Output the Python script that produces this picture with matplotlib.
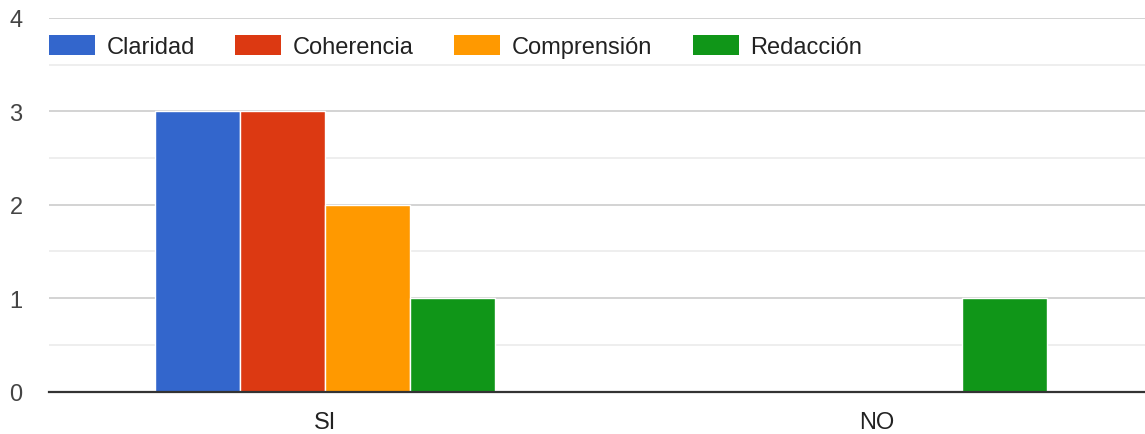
import numpy as np
import matplotlib
matplotlib.use("Agg")
import matplotlib.pyplot as plt
from matplotlib.ticker import MultipleLocator

# datos
categorias = ["SI", "NO"]
series = ["Claridad", "Coherencia", "Comprensión", "Redacción"]
claridad = [3, 0]
coherencia = [3, 0]
comprension = [2, 0]
redaccion = [1, 1]
valores = [claridad, coherencia, comprension, redaccion]
colores = ["#3366cc", "#dc3912", "#ff9900", "#109618"]

plt.rcParams['font.family'] = ['Liberation Sans', 'DejaVu Sans']

W, H = 1145, 435
fig = plt.figure(figsize=(W / 100, H / 100), dpi=100)
ax = fig.add_axes([49 / W, (H - 392.5) / H, (W - 49) / W, (392.5 - 19) / H])

x = np.arange(len(categorias))
ancho = 0.154
for i, (nombre, vals) in enumerate(zip(series, valores)):
    ax.bar(x + (i - 1.5) * ancho, vals, ancho, color=colores[i], label=nombre,
           edgecolor="white", linewidth=1, zorder=3)

ax.set_xlim(-0.5, 1.486)
ax.set_ylim(0, 4)
ax.set_xticks(x)
ax.set_xticklabels(categorias)
ax.yaxis.set_major_locator(MultipleLocator(1))
ax.yaxis.set_minor_locator(MultipleLocator(0.5))
ax.grid(axis="y", which="major", color="#cccccc", linewidth=1.2, zorder=0)
ax.grid(axis="y", which="minor", color="#ebebeb", linewidth=1.2, zorder=0)

for s in ["top", "right", "left"]:
    ax.spines[s].set_visible(False)
ax.spines["bottom"].set_color("#333333")
ax.spines["bottom"].set_linewidth(1.6)
ax.spines["bottom"].set_zorder(4)

ax.tick_params(axis="y", which="both", length=0, pad=19, labelsize=17, labelcolor="#444444")
ax.tick_params(axis="x", length=0, pad=14, labelsize=17, labelcolor="#222222")

leg = ax.legend(loc="center left", bbox_to_anchor=(0, 0.923), ncol=4, frameon=False,
                fontsize=17, handlelength=1.95, handleheight=0.93, handletextpad=0.5,
                columnspacing=1.7, borderpad=0, borderaxespad=0)
for t in leg.get_texts():
    t.set_color("#222222")
for p in leg.get_patches():
    p.set_linewidth(0)

fig.savefig("out.png", dpi=100)
